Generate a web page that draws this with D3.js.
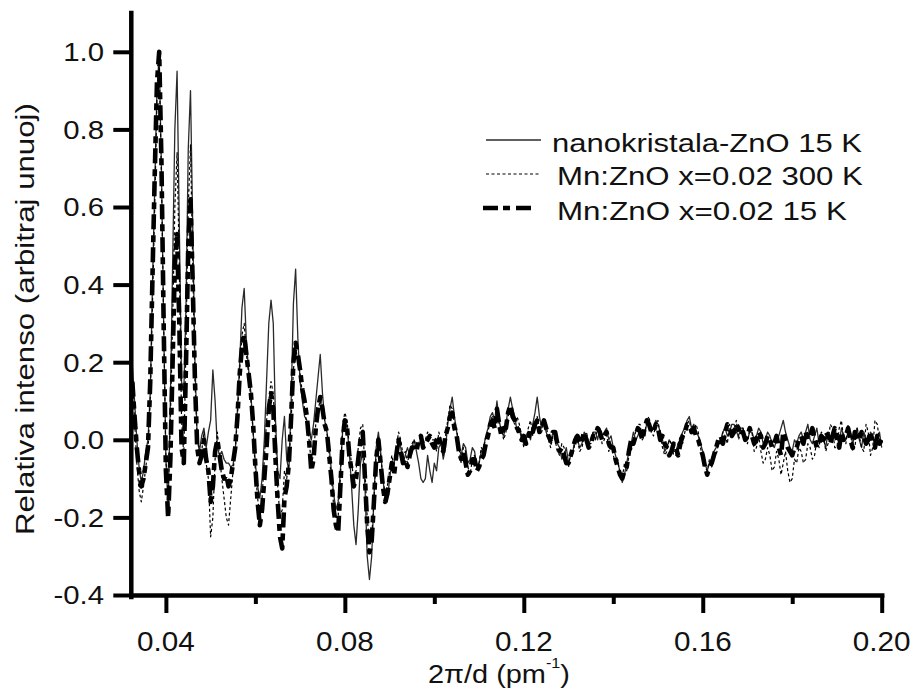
<!DOCTYPE html>
<html><head><meta charset="utf-8">
<script src="https://cdn.jsdelivr.net/npm/d3@7"></script>
<style>body{margin:0;background:#fff}svg{display:block}</style>
</head><body>
<svg id="c" width="914" height="691"></svg>
<script>
// ---- data ----
// x grid: 0.0325 .. 0.2000 in steps of 0.0005 (2π/d, pm^-1)
const xValues = d3.range(65, 401).map(i => i / 2000);

// head: 0.0325 .. 0.0995 (135 points), tail: 0.1000 .. 0.2000 (201 points)
const nanoZnO15K_head = [
 0.19,0.10,0.0,-0.07,-0.11,-0.08,-0.03,0.0,0.12,0.4,
 0.65,0.9,0.99,0.7,0.3,-0.05,-0.17,0.1,0.45,0.8,
 0.95,0.55,0.15,0.12,0.35,0.75,0.9,0.55,0.2,0.0,
 -0.03,0.01,0.03,-0.02,0.02,0.05,0.18,0.1,-0.02,-0.04,
 -0.03,-0.05,-0.06,-0.06,-0.07,-0.065,-0.03,0.08,0.2,0.34,
 0.39,0.25,0.18,0.12,0.02,-0.06,-0.12,-0.15,-0.1,0.0,
 0.15,0.3,0.36,0.3,0.05,-0.08,-0.1,0.0,0.06,-0.05,
 -0.08,0.1,0.35,0.44,0.26,0.15,0.1,0.06,0.05,0.02,
 0.0,0.04,0.1,0.16,0.22,0.12,0.05,0.02,-0.02,-0.08,
 -0.14,-0.18,-0.16,-0.08,0.02,0.05,0.03,-0.03,-0.12,-0.22,
 -0.27,-0.18,-0.06,-0.03,-0.12,-0.3,-0.36,-0.3,-0.15,-0.02,
 0.02,-0.03,-0.1,-0.15,-0.16,-0.1,-0.06,-0.06,-0.03,0.0,
 -0.02,-0.06,-0.04,-0.02,-0.04,-0.02,0.0,-0.03,-0.06,-0.1,
 -0.11,-0.1,-0.04,-0.08,-0.11];
const nanoZnO15K_tail = [
 -0.06,-0.08,-0.02,-0.01,-0.05,-0.02,0.04,0.08,0.11,0.06,0.02,-0.02,-0.04,-0.01,-0.02,-0.06,-0.05,-0.02,-0.03,-0.07,
 -0.06,-0.03,-0.02,0.01,0.03,0.06,0.07,0.05,0.10,0.05,0.02,0.01,0.04,0.08,0.11,0.08,0.06,0.02,0.03,0.0,
 -0.01,0.01,0.02,0.0,0.04,0.07,0.11,0.06,0.03,0.05,0.02,0.0,-0.01,0.02,0.01,-0.01,-0.02,-0.05,-0.04,-0.02,
 -0.06,-0.04,-0.03,0.01,0.0,-0.02,-0.01,0.02,0.01,-0.01,0.0,0.02,0.02,0.0,0.03,0.01,0.02,0.03,0.0,0.01,
 -0.02,-0.04,-0.06,-0.08,-0.11,-0.09,-0.06,-0.03,-0.01,0.02,0.0,0.01,0.03,0.01,0.02,0.04,0.05,0.02,0.03,0.05,
 0.04,0.02,0.0,-0.03,-0.02,0.0,-0.01,-0.03,-0.03,-0.01,0.0,0.02,0.03,0.05,0.06,0.03,0.04,0.02,0.01,-0.01,
 -0.03,-0.06,-0.08,-0.06,-0.05,-0.03,-0.02,-0.01,0.0,0.02,0.03,0.01,0.02,0.04,0.04,0.02,0.01,0.03,0.03,0.0,
 0.0,0.02,0.02,0.0,0.01,0.03,0.02,-0.01,0.0,0.02,0.01,-0.01,-0.02,0.0,0.01,0.03,0.05,0.02,0.0,-0.02,
 -0.03,0.0,-0.01,0.01,0.02,0.0,0.02,0.04,0.0,-0.01,0.01,0.03,-0.01,0.01,0.0,-0.02,0.02,0.0,0.0,0.03,
 0.01,-0.01,0.03,0.01,0.0,0.02,0.02,-0.01,0.01,0.03,0.0,-0.02,0.02,0.0,-0.01,0.02,0.01,-0.02,0.0,0.02,
 -0.02];

const mnZnO300K_head = [
 0.17,0.05,-0.06,-0.13,-0.16,-0.12,-0.07,-0.03,0.1,0.35,
 0.6,0.88,0.97,0.68,0.3,-0.05,-0.15,0.05,0.3,0.6,
 0.74,0.45,0.05,-0.04,0.25,0.6,0.76,0.45,0.15,0.0,
 -0.02,-0.03,0.02,-0.06,-0.1,-0.25,-0.2,-0.05,0.02,-0.04,
 -0.1,-0.15,-0.2,-0.22,-0.15,-0.08,-0.03,0.06,0.18,0.27,
 0.3,0.22,0.17,0.1,0.02,-0.08,-0.15,-0.2,-0.15,-0.05,
 0.05,0.1,0.15,0.12,0.0,-0.12,-0.2,-0.18,-0.08,-0.1,
 -0.06,0.05,0.18,0.24,0.2,0.17,0.12,0.08,0.04,0.0,
 -0.06,-0.04,0.04,0.08,0.1,0.08,0.05,0.02,-0.04,-0.1,
 -0.17,-0.2,-0.2,-0.1,0.04,0.07,0.05,-0.02,-0.06,-0.1,
 -0.08,-0.02,0.03,0.04,-0.08,-0.2,-0.27,-0.25,-0.16,-0.04,
 0.01,-0.04,-0.1,-0.14,-0.12,-0.08,-0.04,-0.07,-0.02,0.02,
 0.0,-0.04,-0.03,-0.06,-0.03,-0.01,0.0,-0.02,-0.01,0.01,
 -0.01,0.0,0.02,0.01,0.0];
const mnZnO300K_tail = [
 0.0,-0.03,0.02,0.0,-0.04,0.01,0.05,0.09,0.08,0.04,0.03,-0.02,-0.06,-0.02,-0.03,-0.07,-0.09,-0.05,-0.04,-0.07,
 -0.06,-0.02,-0.03,0.01,0.02,0.05,0.06,0.03,0.07,0.04,0.03,0.0,0.02,0.06,0.08,0.05,0.04,0.06,0.04,0.01,
 -0.02,0.0,0.03,0.05,0.01,0.04,0.06,0.03,0.02,0.05,0.04,0.0,-0.02,0.01,0.0,-0.03,-0.04,-0.01,-0.02,-0.05,
 -0.07,-0.03,-0.04,0.0,0.0,-0.03,-0.02,0.01,0.02,-0.01,-0.01,0.02,0.0,0.03,0.03,-0.01,0.0,0.02,-0.03,-0.01,
 -0.04,-0.06,-0.05,-0.09,-0.1,-0.06,-0.08,-0.04,-0.03,0.0,0.02,0.04,0.04,0.0,0.01,0.05,0.06,0.02,0.01,0.04,
 0.05,0.01,-0.02,-0.04,-0.03,0.0,-0.01,-0.04,-0.04,-0.01,0.01,-0.01,0.02,0.04,0.05,0.02,0.02,0.04,0.02,-0.02,
 -0.05,-0.07,-0.08,-0.05,-0.07,-0.03,-0.04,-0.01,-0.01,0.02,0.01,-0.01,0.04,0.01,0.02,0.05,0.0,0.02,0.03,0.0,
 -0.01,0.03,0.02,-0.03,-0.02,0.01,-0.03,-0.06,-0.05,-0.02,-0.04,-0.08,-0.07,-0.03,-0.05,-0.09,-0.06,-0.03,-0.08,-0.11,
 -0.1,-0.05,-0.06,-0.02,-0.03,-0.06,-0.05,-0.01,-0.02,-0.05,-0.04,0.0,-0.02,0.02,0.01,-0.03,-0.01,0.04,0.03,-0.02,
 -0.02,0.03,0.05,0.0,-0.01,0.04,0.02,-0.03,-0.02,0.03,0.01,-0.02,-0.03,0.04,0.02,-0.04,-0.02,0.05,0.04,0.0,
 0.0];

const mnZnO15K_head = [
 0.15,0.06,-0.02,-0.08,-0.12,-0.10,-0.06,-0.02,0.15,0.42,
 0.68,0.92,1.0,0.72,0.3,-0.08,-0.2,-0.05,0.2,0.45,
 0.53,0.3,-0.02,-0.06,0.2,0.5,0.62,0.4,0.15,-0.02,
 -0.06,-0.04,0.0,-0.05,-0.08,-0.16,-0.12,-0.03,0.0,-0.04,
 -0.08,-0.1,-0.09,-0.12,-0.1,-0.06,-0.02,0.06,0.17,0.24,
 0.27,0.22,0.17,0.12,0.04,-0.07,-0.16,-0.22,-0.18,-0.1,
 -0.02,0.08,0.12,0.08,-0.05,-0.16,-0.25,-0.28,-0.15,-0.12,
 -0.06,0.06,0.2,0.25,0.22,0.18,0.13,0.1,0.06,0.0,
 -0.08,-0.05,0.03,0.08,0.11,0.08,0.04,0.02,-0.04,-0.1,
 -0.18,-0.22,-0.24,-0.12,0.0,0.05,0.03,-0.04,-0.08,-0.12,
 -0.1,-0.05,0.0,0.02,-0.1,-0.22,-0.29,-0.26,-0.16,-0.05,
 0.0,-0.06,-0.12,-0.16,-0.14,-0.1,-0.06,-0.09,-0.04,0.0,
 -0.03,-0.06,-0.05,-0.07,-0.04,-0.02,-0.02,-0.03,0.0,0.01,
 -0.02,-0.01,0.0,0.01,-0.01];
const mnZnO15K_tail = [
 -0.02,0.0,0.01,-0.02,-0.03,0.01,0.03,0.06,0.07,0.03,0.01,-0.03,-0.05,-0.03,-0.06,-0.09,-0.08,-0.05,-0.05,-0.08,
 -0.07,-0.05,-0.04,-0.01,0.01,0.04,0.05,0.03,0.08,0.04,0.01,0.03,0.03,0.07,0.09,0.06,0.05,0.03,0.02,0.0,
 0.01,-0.01,0.0,0.03,0.02,0.04,0.05,0.02,0.03,0.05,0.03,0.01,0.0,0.02,0.02,-0.01,-0.03,-0.02,-0.04,-0.06,
 -0.06,-0.04,-0.02,0.0,0.01,-0.01,0.0,0.02,0.0,-0.02,-0.01,0.01,0.01,0.03,0.02,0.0,0.01,0.02,-0.01,-0.02,
 -0.02,-0.05,-0.07,-0.09,-0.1,-0.08,-0.07,-0.03,0.0,-0.01,0.01,0.03,0.02,0.0,0.03,0.05,0.04,0.02,0.02,0.04,
 0.03,0.0,0.01,-0.01,-0.02,-0.04,-0.03,-0.01,-0.02,-0.04,-0.01,0.01,0.02,0.04,0.04,0.02,0.03,0.01,0.0,-0.02,
 -0.04,-0.07,-0.09,-0.07,-0.06,-0.04,-0.02,0.0,0.01,-0.01,0.02,0.04,0.03,0.01,0.02,0.04,0.03,0.01,0.02,0.0,
 0.01,0.03,0.01,-0.01,0.0,0.02,0.01,-0.02,-0.01,0.01,0.0,-0.02,-0.01,0.01,-0.02,-0.04,0.02,0.0,-0.02,-0.03,
 -0.04,-0.02,-0.02,0.0,0.01,-0.01,0.02,0.0,0.01,0.03,0.0,-0.02,-0.01,0.01,0.0,0.02,0.01,-0.01,0.01,0.03,
 0.0,-0.02,0.02,0.0,0.01,0.03,0.0,-0.02,0.02,0.0,0.0,0.02,0.01,-0.01,0.0,0.02,-0.01,-0.02,0.01,-0.01,
 0.0];

const seriesNames = ["nanokristala-ZnO 15 K", "Mn:ZnO x=0.02 300 K", "Mn:ZnO x=0.02 15 K"];
const yTickValues = [-0.4, -0.2, 0.0, 0.2, 0.4, 0.6, 0.8, 1.0];
const xMajorTicks = [0.04, 0.08, 0.12, 0.16, 0.20];
const xMinorTicks = [0.06, 0.10, 0.14, 0.18];
const xTitleMain = "2\u03c0/d (pm";
const xTitleSup = "-1";
const xTitleEnd = ")";
const yTitle = "Relativa intenso (arbitraj unuoj)";

// ---- chart ----
const FONT = "'Liberation Sans', Arial, sans-serif";
const svg = d3.select("#c");
const x = d3.scaleLinear().domain([0.0322, 0.2]).range([131, 881.7]);
const y = d3.scaleLinear().domain([-0.4, 1.1]).range([595, 13]);

const series = [
  { name: seriesNames[0], vals: nanoZnO15K_head.concat(nanoZnO15K_tail), stroke: "#2a2a2a", width: 1.3, dash: null },
  { name: seriesNames[1], vals: mnZnO300K_head.concat(mnZnO300K_tail), stroke: "#000", width: 1.2, dash: "3,2.5" },
  { name: seriesNames[2], vals: mnZnO15K_head.concat(mnZnO15K_tail), stroke: "#000", width: 4.6, dash: "15,5,7,6" }
];

svg.append("defs").append("clipPath").attr("id", "clip")
  .append("rect").attr("x", 131).attr("y", 10).attr("width", 752).attr("height", 590);

const line = d3.line().x(d => x(d[0])).y(d => y(d[1]));
const plot = svg.append("g").attr("clip-path", "url(#clip)");
series.forEach(s => {
  plot.append("path")
    .datum(xValues.map((xv, i) => [xv, s.vals[i]]))
    .attr("d", line)
    .attr("fill", "none")
    .attr("stroke", s.stroke)
    .attr("stroke-width", s.width)
    .attr("stroke-linejoin", "round")
    .attr("stroke-dasharray", s.dash);
});

// axes
const yAxis = svg.append("g").attr("transform", "translate(131.3,0)")
  .call(d3.axisLeft(y).tickValues(yTickValues).tickSize(18).tickSizeOuter(0).tickFormat(""));
const xAxis = svg.append("g").attr("transform", "translate(0,595)")
  .call(d3.axisBottom(x).tickValues(xMajorTicks).tickSize(18).tickSizeOuter(0).tickFormat(""));
const xMinor = svg.append("g").attr("transform", "translate(0,595)")
  .call(d3.axisBottom(x).tickValues(xMinorTicks).tickSize(9).tickSizeOuter(0).tickFormat(""));
xMinor.select(".domain").remove();
[yAxis, xAxis, xMinor].forEach(g => {
  g.attr("color", "#000");
  g.selectAll(".domain").attr("stroke-width", 4.5).attr("stroke-linecap", "square");
  g.selectAll(".tick line").attr("stroke-width", 4);
});
yAxis.select(".domain").attr("d", "M0,597V13");

function stretchTo(sel, target) {
  return target / sel.node().getComputedTextLength();
}

// tick labels
yTickValues.forEach(v => {
  svg.append("text")
    .attr("transform", `translate(104,${y(v) + 9.3}) scale(1.13,1)`)
    .attr("text-anchor", "end")
    .attr("font-family", FONT).attr("font-size", 26).attr("fill", "#111")
    .text(v.toFixed(1));
});
xMajorTicks.forEach(v => {
  svg.append("text")
    .attr("transform", `translate(${x(v)},651) scale(1.06,1)`)
    .attr("text-anchor", "middle")
    .attr("font-family", FONT).attr("font-size", 28).attr("fill", "#111")
    .text(v.toFixed(2));
});

// axis titles
const xt = svg.append("text").attr("font-family", FONT).attr("font-size", 25).attr("fill", "#111");
xt.append("tspan").text(xTitleMain);
const sxt = stretchTo(xt, 118);
xt.append("tspan").attr("font-size", 14).attr("dy", -15).text(xTitleSup);
xt.append("tspan").attr("dy", 15).text(xTitleEnd);
xt.attr("transform", `translate(428,683) scale(${sxt},1)`);

const yt = svg.append("text").attr("font-family", FONT).attr("font-size", 25).attr("fill", "#111")
  .attr("text-anchor", "middle").text(yTitle);
const syt = stretchTo(yt, 432);
yt.attr("transform", `translate(33.5,319) rotate(-90) scale(${syt},1)`);

// legend
const legendRows = [
  { lx1: 486, lx2: 541, ly: 140, tx: 552, ty: 151.5, tw: 310 },
  { lx1: 486, lx2: 541, ly: 174, tx: 557, ty: 184.5, tw: 306 },
  { lx1: 483, lx2: 532, ly: 208, tx: 557, ty: 219.5, tw: 290 }
];
series.forEach((s, i) => {
  const r = legendRows[i];
  svg.append("line").attr("x1", r.lx1).attr("x2", r.lx2).attr("y1", r.ly).attr("y2", r.ly)
    .attr("stroke", s.stroke).attr("stroke-width", s.width).attr("stroke-dasharray", s.dash);
  const t = svg.append("text").attr("font-family", FONT).attr("font-size", 25).attr("fill", "#111").text(s.name);
  const sc = stretchTo(t, r.tw);
  t.attr("transform", `translate(${r.tx},${r.ty}) scale(${sc},1)`);
});
</script>
</body></html>
